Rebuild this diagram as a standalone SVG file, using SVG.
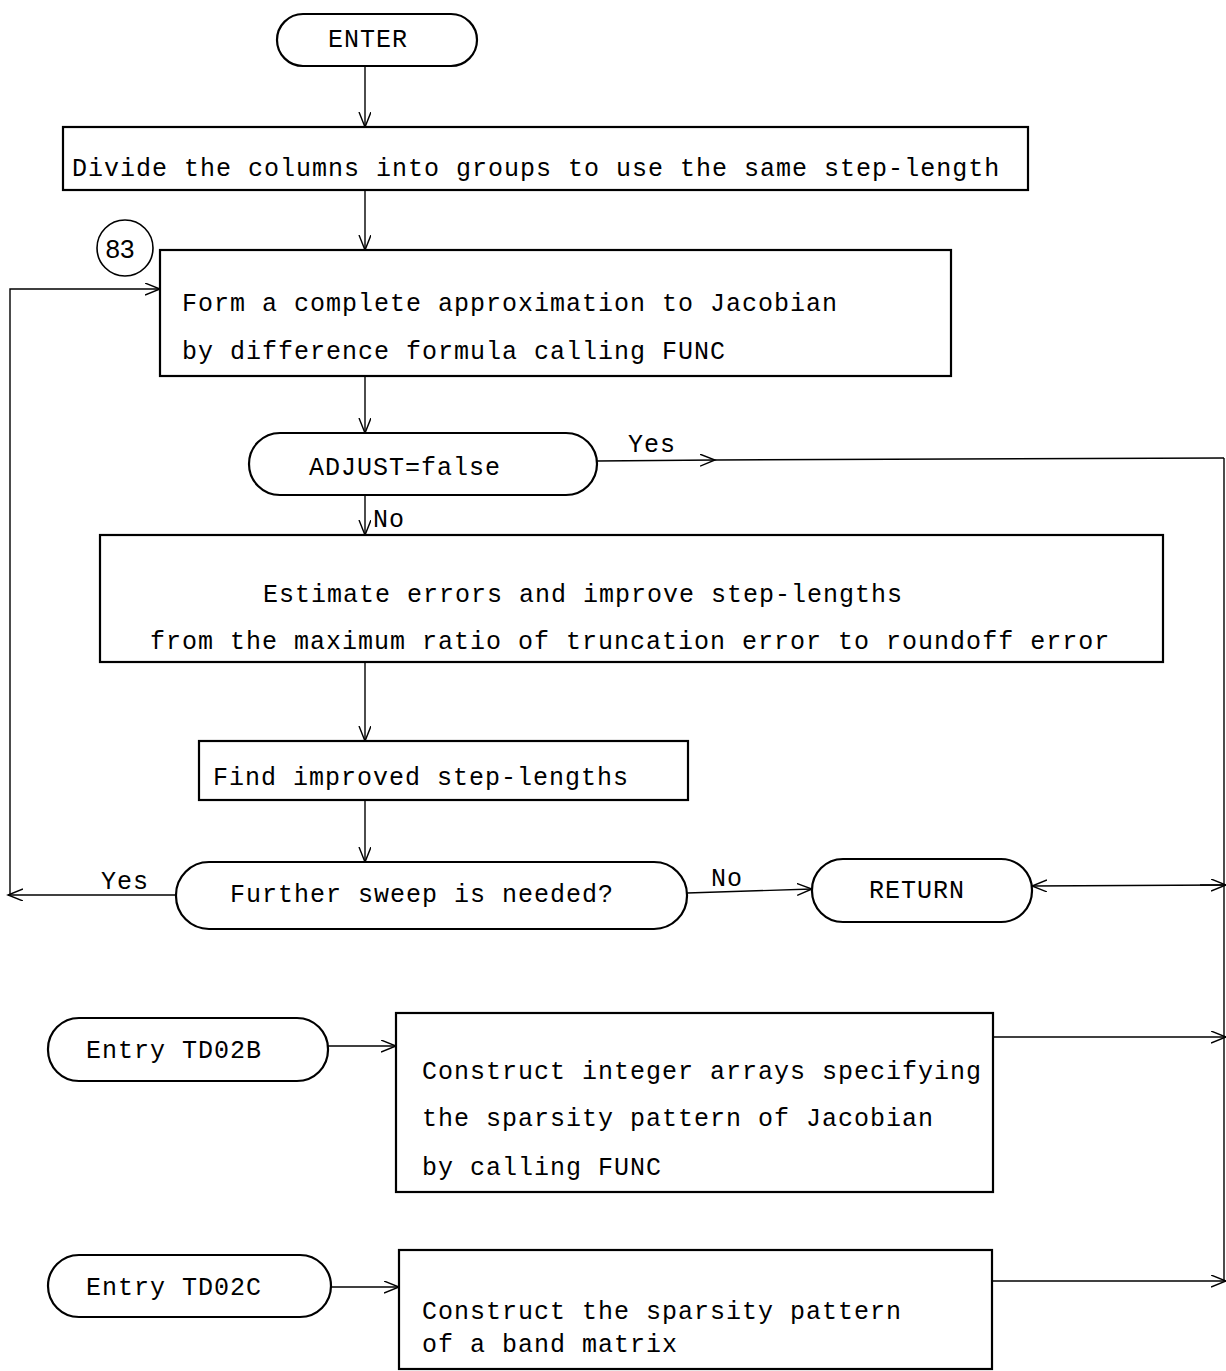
<svg xmlns="http://www.w3.org/2000/svg" width="1226" height="1371" viewBox="0 0 1226 1371">
  <style>
    .box { fill: #fff; stroke: #000; stroke-width: 2.2; }
    .term { fill: #fff; stroke: #000; stroke-width: 2.2; }
    .ln { fill: none; stroke: #000; stroke-width: 1.4; }
    .arr { marker-end: url(#ah); }
    text { font-family: "Liberation Mono", "DejaVu Sans Mono", monospace; font-size: 25px; letter-spacing: 1px; fill: #000; }
    .mid { text-anchor: middle; }
  </style>
  <defs>
    <marker id="ah" markerUnits="userSpaceOnUse" markerWidth="18" markerHeight="14" refX="15" refY="6" orient="auto">
      <path d="M0,0 L15,6 L0,12" fill="none" stroke="#000" stroke-width="1.4"/>
    </marker>
  </defs>

  <rect width="1226" height="1371" fill="#fff"/>

  <g id="connectors">
    <line class="ln arr" x1="365" y1="66" x2="365" y2="127"/>
    <line class="ln arr" x1="365" y1="190" x2="365" y2="250"/>
    <line class="ln arr" x1="365" y1="376" x2="365" y2="433"/>
    <line class="ln arr" x1="365" y1="495" x2="365" y2="535"/>
    <line class="ln arr" x1="365" y1="662" x2="365" y2="741"/>
    <line class="ln arr" x1="365" y1="800" x2="365" y2="862"/>
    <!-- loop back to 83 -->
    <line class="ln arr" x1="176" y1="895" x2="8" y2="895"/>
    <polyline class="ln arr" points="10,895 10,289 160,289"/>
    <!-- Yes branch to right rail -->
    <line class="ln arr" x1="597" y1="461" x2="715" y2="460"/>
    <line class="ln" x1="715" y1="460" x2="1224" y2="458"/>
    <line class="ln" x1="1224" y1="458" x2="1224" y2="1281"/>
    <line class="ln arr" x1="1200" y1="885" x2="1226" y2="885"/>
    <line class="ln arr" x1="1224" y1="885" x2="1032" y2="886"/>
    <!-- No to RETURN -->
    <line class="ln arr" x1="687" y1="893" x2="812" y2="889"/>
    <!-- entries -->
    <line class="ln arr" x1="328" y1="1046" x2="396" y2="1046"/>
    <line class="ln arr" x1="993" y1="1037" x2="1226" y2="1037"/>
    <line class="ln arr" x1="331" y1="1287" x2="399" y2="1287"/>
    <line class="ln arr" x1="992" y1="1281" x2="1226" y2="1281"/>
    <text x="628" y="452">Yes</text>
    <text x="373" y="527">No</text>
    <text x="101" y="889">Yes</text>
    <text x="711" y="886">No</text>
  </g>

  <g id="enter">
    <rect class="term" x="277" y="14" width="200" height="52" rx="26"/>
    <text class="mid" x="368" y="47">ENTER</text>
  </g>

  <g id="divide">
    <rect class="box" x="63" y="127" width="965" height="63"/>
    <text x="72" y="176">Divide the columns into groups to use the same step-length</text>
  </g>

  <g id="label83">
    <circle cx="125" cy="248" r="28" fill="#fff" stroke="#000" stroke-width="1.6"/>
    <text class="mid" x="120" y="258" style="font-family:'Liberation Sans',sans-serif;font-size:26px;letter-spacing:0">83</text>
  </g>

  <g id="form">
    <rect class="box" x="160" y="250" width="791" height="126"/>
    <text x="182" y="311">Form a complete approximation to Jacobian</text>
    <text x="182" y="359">by difference formula calling FUNC</text>
  </g>

  <g id="adjust">
    <rect class="term" x="249" y="433" width="348" height="62" rx="31"/>
    <text x="309" y="475">ADJUST=false</text>
  </g>

  <g id="estimate">
    <rect class="box" x="100" y="535" width="1063" height="127"/>
    <text x="263" y="602">Estimate errors and improve step-lengths</text>
    <text x="150" y="649">from the maximum ratio of truncation error to roundoff error</text>
  </g>

  <g id="find">
    <rect class="box" x="199" y="741" width="489" height="59"/>
    <text x="213" y="785">Find improved step-lengths</text>
  </g>

  <g id="further">
    <rect class="term" x="176" y="862" width="511" height="67" rx="33"/>
    <text x="230" y="902">Further sweep is needed?</text>
  </g>

  <g id="return">
    <rect class="term" x="812" y="859" width="220" height="63" rx="31"/>
    <text x="869" y="898">RETURN</text>
  </g>

  <g id="td02b">
    <rect class="term" x="48" y="1018" width="280" height="63" rx="31"/>
    <text x="86" y="1058">Entry TD02B</text>
  </g>

  <g id="sparsity">
    <rect class="box" x="396" y="1013" width="597" height="179"/>
    <text x="422" y="1079">Construct integer arrays specifying</text>
    <text x="422" y="1126">the sparsity pattern of Jacobian</text>
    <text x="422" y="1175">by calling FUNC</text>
  </g>

  <g id="td02c">
    <rect class="term" x="48" y="1255" width="283" height="62" rx="31"/>
    <text x="86" y="1295">Entry TD02C</text>
  </g>

  <g id="band">
    <rect class="box" x="399" y="1250" width="593" height="119"/>
    <text x="422" y="1319">Construct the sparsity pattern</text>
    <text x="422" y="1352">of a band matrix</text>
  </g>
</svg>
